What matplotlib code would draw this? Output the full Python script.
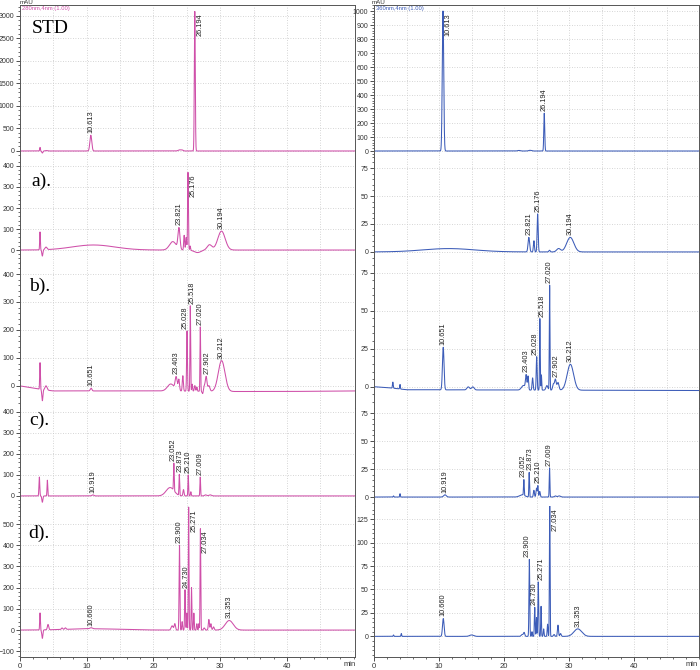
import numpy as np
import matplotlib
matplotlib.use('Agg')
import matplotlib.pyplot as plt
from matplotlib.ticker import MultipleLocator, AutoMinorLocator, FixedLocator

plt.rcParams['font.family'] = ['Liberation Sans', 'DejaVu Sans']

# peak tables: (retention time min, height mAU, sigma min)
std_left = [(3.0, 80, 0.05), (3.35, -45, 0.08), (3.9, 10, 0.15), (10.613, 350, 0.14),
            (23.9, 25, 0.2), (24.3, 20, 0.15), (26.194, 3100, 0.07)]
std_right = [(10.613, 1000, 0.11), (22.3, 4, 0.2), (24.0, 5, 0.2), (26.194, 270, 0.07)]

a_left = [(3.0, 85, 0.05), (3.35, -30, 0.08), (3.9, 12, 0.15), (11.0, 24, 3.2),
          (22.9, 40, 0.5), (23.821, 100, 0.15), (24.6, 70, 0.07), (24.9, 60, 0.07),
          (25.176, 370, 0.06), (25.5, 20, 0.06), (26.6, -12, 0.5), (28.4, 25, 0.35),
          (30.194, 90, 0.55)]
a_right = [(11.5, 3, 4.0), (23.821, 13, 0.12), (24.6, 10, 0.08), (25.176, 34, 0.08),
           (27.0, 1.5, 0.1), (28.4, 3, 0.3), (30.194, 13, 0.55)]

b_left = [(3.0, 95, 0.05), (3.35, -40, 0.08), (3.9, 15, 0.15), (10.651, 10, 0.12),
          (22.6, 25, 0.5), (23.403, 45, 0.15), (23.8, 40, 0.1), (24.4, 55, 0.08),
          (25.028, 215, 0.06), (25.518, 305, 0.05), (25.8, 25, 0.06), (26.2, 20, 0.08),
          (26.5, 15, 0.06), (27.020, 230, 0.05), (27.4, -15, 0.1), (27.6, 20, 0.15),
          (27.902, 50, 0.12), (28.3, 20, 0.15), (30.212, 110, 0.5)]
b_left_base_t = [0, 3, 5, 22, 32, 40, 50]
b_left_base_v = [0, -12, -18, -18, -20, -20, -18]
b_right = [(2.9, 4, 0.06), (4.0, 3, 0.05), (10.651, 28, 0.12), (14.5, 2, 0.2), (15.2, 2, 0.2),
           (23.0, 3, 0.3), (23.403, 9, 0.1), (23.7, 9, 0.08), (24.4, 8, 0.08),
           (25.028, 22, 0.07), (25.518, 47, 0.05), (25.75, 10, 0.05), (26.6, 3, 0.15),
           (27.020, 69, 0.05), (27.6, 4, 0.12), (27.902, 7, 0.12), (28.3, 5, 0.15),
           (30.212, 17, 0.5)]
b_right_base_t = [0, 3, 5, 50]
b_right_base_v = [0, -1, -2, -2.5]

c_left = [(2.9, 90, 0.06), (3.35, -30, 0.08), (4.1, 75, 0.05), (10.919, 5, 0.15),
          (22.5, 40, 0.6), (23.052, 130, 0.05), (23.873, 100, 0.05), (24.5, 30, 0.08),
          (25.210, 100, 0.05), (25.6, 20, 0.06), (27.009, 90, 0.05), (27.8, 5, 0.15),
          (28.5, 5, 0.2)]
c_right = [(3.0, 1, 0.05), (4.0, 3, 0.05), (10.919, 2, 0.2), (22.8, 2, 0.4), (23.052, 14, 0.05),
           (23.873, 22, 0.05), (24.6, 6, 0.08), (25.0, 8, 0.08), (25.210, 10, 0.06),
           (25.5, 5, 0.08), (27.009, 26, 0.05), (27.9, 1, 0.15), (28.5, 1, 0.2)]

d_left = [(3.0, 80, 0.05), (3.35, -40, 0.08), (4.2, 25, 0.1), (6.3, 7, 0.1), (6.8, 7, 0.1),
          (11.0, 6, 4.0), (10.660, 5, 0.2), (22.8, 20, 0.15), (23.2, 30, 0.1),
          (23.900, 400, 0.06), (24.3, 40, 0.06), (24.730, 190, 0.06), (25.0, 80, 0.05),
          (25.271, 580, 0.05), (25.7, 200, 0.05), (26.05, 80, 0.05), (26.5, 30, 0.06),
          (26.8, 30, 0.05), (27.034, 478, 0.05), (27.6, 10, 0.1), (28.3, 50, 0.08),
          (28.6, 30, 0.08), (29.0, 15, 0.1), (31.353, 45, 0.6)]
d_right = [(3.0, 1.5, 0.05), (4.2, 3, 0.05), (10.660, 19, 0.12), (15.0, 1.5, 0.3),
           (22.8, 2, 0.15), (23.1, 4, 0.1), (23.900, 82, 0.06), (24.3, 5, 0.05),
           (24.730, 31, 0.06), (25.0, 20, 0.05), (25.271, 58, 0.06), (25.7, 32, 0.05),
           (26.1, 8, 0.06), (26.7, 13, 0.06), (27.034, 150, 0.05), (27.7, 2, 0.1),
           (28.3, 12, 0.08), (28.7, 3, 0.1), (31.353, 8, 0.6)]

# peak labels (retention times printed on the chromatograms)
std_labels = ['10.613', '26.194']
a_labels = ['23.821', '25.176', '30.194']
b_labels = ['10.651', '23.403', '25.028', '25.518', '27.020', '27.902', '30.212']
c_labels = ['10.919', '23.052', '23.873', '25.210', '27.009']
d_labels = ['10.660', '23.900', '24.730', '25.271', '27.034', '31.353']
panel_names = ['STD', 'a).', 'b).', 'c).', 'd).']
time_ticks = [0, 10, 20, 30, 40]

W, H = 700, 670
pink = '#cf4fa9'
blue = '#3c5cb8'

t = np.linspace(0, 50.5, 8000)


def trace(peaks, base_t=None, base_v=None):
    y = np.zeros_like(t) if base_t is None else np.interp(t, base_t, base_v)
    for rt, h, s in peaks:
        y = y + h * np.exp(-0.5 * ((t - rt) / s) ** 2)
    return y


def box(x0, y0, x1, y1):
    return [x0 / W, 1 - y1 / H, (x1 - x0) / W, (y1 - y0) / H]


def spread(xs, gap=7.0):
    # push crowded label positions (pixels) apart so they do not overlap
    xs = list(xs)
    for _ in range(6):
        for k in range(1, len(xs)):
            d = xs[k] - xs[k - 1]
            if d < gap:
                xs[k - 1] -= (gap - d) / 2
                xs[k] += (gap - d) / 2
    return xs


fig = plt.figure(figsize=(7, 6.7), dpi=100)

rows = [(5, 158), (158, 262), (262, 408), (408, 506), (506, 657)]
left = dict(x0=20, x1=355, xmax=50.2, color=pink,
            ylims=[(-156, 3244), (-57, 438), (-79, 443), (-48, 419), (-127, 585)],
            steps=[500, 100, 100, 100, 100],
            data=[(std_left, None, None), (a_left, None, None),
                  (b_left, b_left_base_t, b_left_base_v), (c_left, None, None), (d_left, None, None)],
            side=[['26.194'], ['25.176'], [], [], ['25.271', '27.034']])
right = dict(x0=374, x1=699, xmax=50.0, color=blue,
             ylims=[(-50, 1043), (-9, 84), (-14, 82), (-8, 79.5), (-22, 139)],
             steps=[100, 25, 25, 25, 25],
             data=[(std_right, None, None), (a_right, None, None),
                   (b_right, b_right_base_t, b_right_base_v), (c_right, None, None), (d_right, None, None)],
             side=[['10.613'], [], [], [], ['27.034']])
all_labels = [std_labels, a_labels, b_labels, c_labels, d_labels]

for col in (left, right):
    px_per_min = (col['x1'] - col['x0']) / col['xmax']
    for i, (y0, y1) in enumerate(rows):
        ax = fig.add_axes(box(col['x0'], y0, col['x1'], y1))
        ax.set_facecolor('none')
        peaks, bt, bv = col['data'][i]
        y = trace(peaks, bt, bv)
        ax.plot(t, y, color=col['color'], lw=0.75)
        ax.set_xlim(0, col['xmax'])
        ax.set_ylim(*col['ylims'][i])
        ax.yaxis.set_major_locator(MultipleLocator(col['steps'][i]))
        ax.yaxis.set_minor_locator(AutoMinorLocator(5))
        ax.grid(axis='y', which='major', color='#c8c8c8', lw=0.6, ls=(0, (1, 2)))
        for gx in np.arange(5, 50, 5):
            ax.axvline(gx, color='#c8c8c8', lw=0.6, ls=(0, (1, 2)), zorder=0)
        ax.tick_params(axis='y', which='major', length=3, width=0.6, labelsize=5,
                       pad=1, colors='#333333')
        ax.tick_params(axis='y', which='minor', length=1.5, width=0.5, colors='#333333')
        for s in ax.spines.values():
            s.set_color('#555555')
            s.set_linewidth(0.7)
        ax.spines['top'].set_visible(i == 0)
        if i == 4:
            ax.xaxis.set_major_locator(FixedLocator(time_ticks))
            ax.xaxis.set_minor_locator(MultipleLocator(2))
            ax.tick_params(axis='x', which='major', length=3, width=0.6, labelsize=5.5,
                           pad=1.5, colors='#333333')
            ax.tick_params(axis='x', which='minor', length=1.5, width=0.5, colors='#333333')
        else:
            ax.spines['bottom'].set_visible(False)
            ax.tick_params(axis='x', which='both', bottom=False, labelbottom=False)

        top = col['ylims'][i][1]
        above = [lab for lab in all_labels[i] if lab not in col['side'][i]]
        xs0 = [float(lab) * px_per_min for lab in above]
        shift = dict(zip(above, [(a - b) / 1.389 for a, b in zip(spread(xs0), xs0)]))
        for lab in all_labels[i]:
            rt = float(lab)
            m = (t > rt - 0.12) & (t < rt + 0.12)
            apex = min(y[m].max(), top)
            if lab in col['side'][i]:
                ax.annotate(lab, (rt, apex), xytext=(1.2, -1.5), textcoords='offset points',
                            rotation=90, ha='left', va='top', fontsize=5.3, color='#222222',
                            annotation_clip=False)
            else:
                ax.annotate(lab, (rt, apex), xytext=(shift[lab], 1.5), textcoords='offset points',
                            rotation=90, ha='center', va='bottom', fontsize=5.3, color='#222222',
                            annotation_clip=False)

        if col is left:
            name_pos = [(32, 33), (31, 186), (29, 291), (29, 425), (28, 538)]
            nx, ny = name_pos[i]
            fig.text(nx / W, 1 - ny / H, panel_names[i], fontsize=14,
                     family='Liberation Serif', va='baseline', ha='left')

# headers and axis units
fig.text(20 / W, 1 - 5.5 / H, 'mAU', fontsize=4.5, color='#333333', va='bottom')
fig.text(22 / W, 1 - 6 / H, '280nm,4nm (1.00)', fontsize=4.2, color=pink, va='top')
fig.text(372 / W, 1 - 5.5 / H, 'mAU', fontsize=4.5, color='#333333', va='bottom')
fig.text(376 / W, 1 - 6 / H, '360nm,4nm (1.00)', fontsize=4.2, color=blue, va='top')
fig.text(344 / W, 1 - 664 / H, 'min', fontsize=5.5, color='#333333', va='center')
fig.text(686 / W, 1 - 664 / H, 'min', fontsize=5.5, color='#333333', va='center')

fig.savefig('out.png', dpi=100)
